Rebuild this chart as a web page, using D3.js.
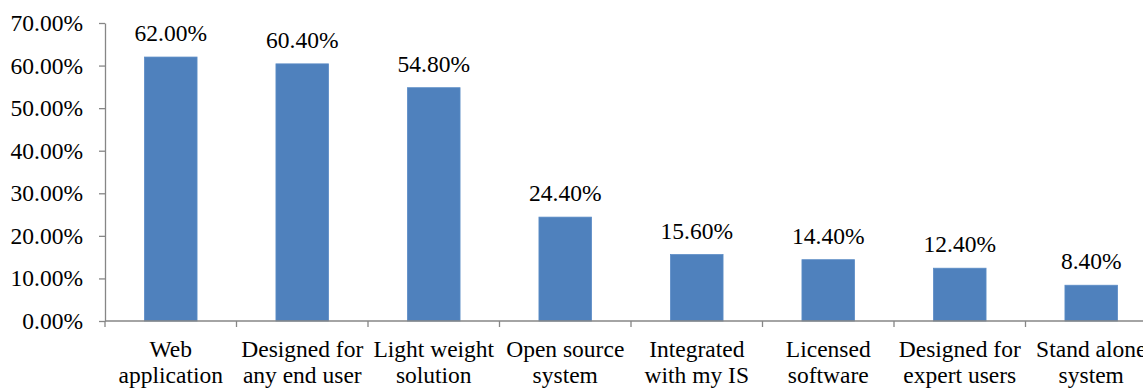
<!DOCTYPE html>
<html>
<head>
<meta charset="utf-8">
<script src="https://cdn.jsdelivr.net/npm/d3@7"></script>
<style>
  html, body { margin: 0; padding: 0; background: #fff; overflow: hidden; }
  svg { display: block; }
</style>
</head>
<body>
<svg id="chart" width="1143" height="391"></svg>
<script>
// Feature categories (two-line labels) and the share of respondents for each
const categories = [
  ["Web", "application"],
  ["Designed for", "any end user"],
  ["Light weight", "solution"],
  ["Open source", "system"],
  ["Integrated", "with my IS"],
  ["Licensed", "software"],
  ["Designed for", "expert users"],
  ["Stand alone", "system"]
];
const values = [62.0, 60.4, 54.8, 24.4, 15.6, 14.4, 12.4, 8.4];
const yTicks = [0, 10, 20, 30, 40, 50, 60, 70];

const FONT = "Liberation Serif";
const fontSize = 23.5;
const svg = d3.select("#chart")
  .style("font-family", FONT)
  .style("font-size", fontSize + "px");
const margin = { left: 105, top: 23, bottom: 321 };
const bandW = 131.5;
const names = categories.map(c => c.join(" "));

const x = d3.scaleBand()
  .domain(names)
  .range([margin.left, margin.left + bandW * names.length])
  .padding(0);

const y = d3.scaleLinear()
  .domain([0, 70])
  .range([margin.bottom, margin.top]);

const axisColor = "#868686";

// Y axis
const yAxis = svg.append("g")
  .attr("transform", `translate(${margin.left},0)`)
  .call(d3.axisLeft(y).tickValues(yTicks).tickSize(6).tickSizeOuter(0)
    .tickFormat(d => d.toFixed(2) + "%"));
yAxis.attr("font-family", null).attr("font-size", null);
yAxis.select(".domain").attr("stroke", axisColor).attr("stroke-width", 1.3);
yAxis.selectAll(".tick line").attr("stroke", axisColor).attr("stroke-width", 1.3);
yAxis.selectAll(".tick text")
  .style("font-family", FONT)
  .style("font-size", fontSize + "px")
  .attr("x", -22)
  .attr("fill", "#000");

// Bars
const barW = bandW * 0.4;
svg.append("g").selectAll("rect")
  .data(values)
  .join("rect")
  .attr("x", (d, i) => x(names[i]) + x.bandwidth() / 2 - barW / 2)
  .attr("width", barW)
  .attr("y", d => y(d))
  .attr("height", d => y(0) - y(d))
  .attr("fill", "#4F81BD")
  .attr("stroke", "#5B8CC6")
  .attr("stroke-width", 0.8);

// Value labels
svg.append("g")
  .selectAll("text")
  .data(values)
  .join("text")
  .style("font-family", FONT)
  .style("font-size", fontSize + "px")
  .attr("x", (d, i) => x(names[i]) + x.bandwidth() / 2)
  .attr("y", d => y(d) - 16)
  .attr("text-anchor", "middle")
  .text(d => d.toFixed(2) + "%");

// X axis with category boundary ticks
const xAxis = svg.append("g")
  .attr("transform", `translate(0,${margin.bottom})`);
xAxis.append("line")
  .attr("x1", margin.left).attr("x2", x.range()[1])
  .attr("stroke", axisColor).attr("stroke-width", 1.3);
xAxis.selectAll("line.tick")
  .data(names)
  .join("line")
  .attr("class", "tick")
  .attr("x1", d => x(d)).attr("x2", d => x(d))
  .attr("y1", 0).attr("y2", 6)
  .attr("stroke", axisColor).attr("stroke-width", 1.3);

// Category labels, two lines each
const labels = xAxis.selectAll("text.cat")
  .data(categories)
  .join("text")
  .attr("class", "cat")
  .style("font-family", FONT)
  .style("font-size", fontSize + "px")
  .attr("text-anchor", "middle")
  .attr("transform", (d, i) => `translate(${x(names[i]) + x.bandwidth() / 2},0)`);
labels.append("tspan").attr("x", 0).attr("y", 36).text(d => d[0]);
labels.append("tspan").attr("x", 0).attr("y", 62).text(d => d[1]);
</script>
</body>
</html>
